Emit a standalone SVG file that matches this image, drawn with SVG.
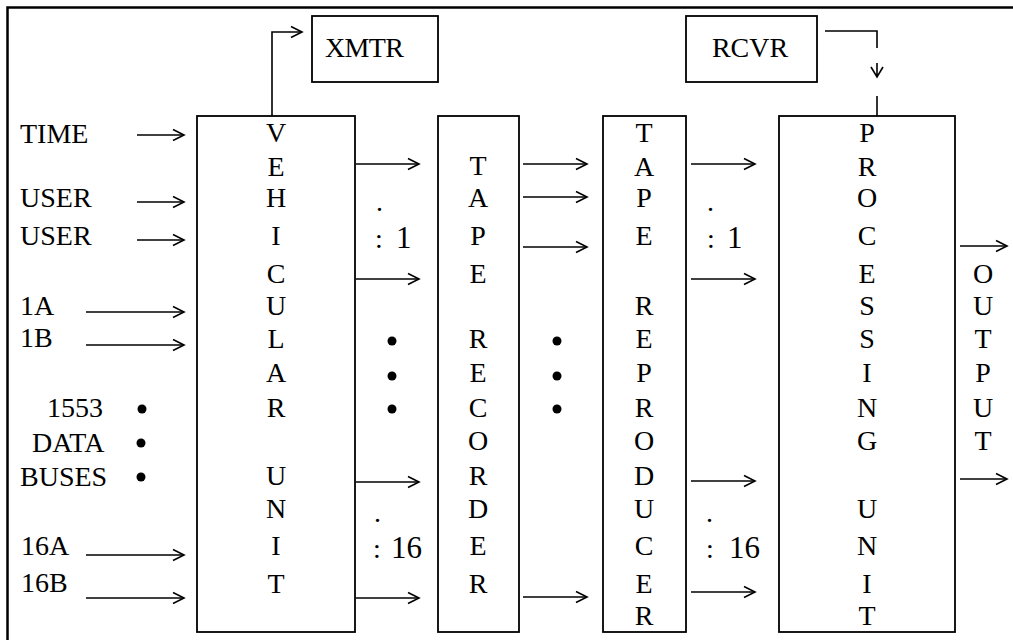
<svg xmlns="http://www.w3.org/2000/svg" width="1013" height="640" viewBox="0 0 1013 640">
<defs>
<marker id="ah" markerUnits="userSpaceOnUse" markerWidth="16" markerHeight="16" viewBox="-13 -8 16 16" refX="0" refY="0" orient="auto">
<path d="M-11,-5.5 L0,0 L-11,5.5" fill="none" stroke="#000" stroke-width="1.6"/>
</marker>
</defs>
<style>
.box{fill:#fff;stroke:#000;stroke-width:1.8}
text{font-family:'Liberation Serif','Times New Roman','DejaVu Serif',serif;font-size:28px;fill:#000}
.v{text-anchor:middle}
.d{font-size:31px}
.c{fill:none;stroke:#000;stroke-width:1.6}
.a{marker-end:url(#ah)}
</style>
<rect width="1013" height="640" fill="#fff"/>
<path d="M7.5,640 V7.5 H1013" fill="none" stroke="#000" stroke-width="2.5"/>

<g id="xmtr" font-family="Liberation Serif, serif">
<rect class="box" x="312" y="16" width="126" height="66"/>
<text x="325" y="57" textLength="79">XMTR</text>
</g>
<g id="rcvr" font-family="Liberation Serif, serif">
<rect class="box" x="686" y="16" width="131" height="66"/>
<text class="v" x="750" y="57">RCVR</text>
</g>

<g id="vehicular-unit" font-family="Liberation Serif, serif">
<rect class="box" x="197" y="116" width="158" height="516"/>
<g class="v">
<text x="276" y="142">V</text><text x="276" y="176">E</text><text x="276" y="207">H</text><text x="276" y="245">I</text><text x="276" y="283">C</text><text x="276" y="315">U</text><text x="276" y="348">L</text><text x="276" y="382">A</text><text x="276" y="417">R</text><text x="276" y="485">U</text><text x="276" y="518">N</text><text x="276" y="555">I</text><text x="276" y="593">T</text>
</g>
</g>

<g id="tape-recorder" font-family="Liberation Serif, serif">
<rect class="box" x="438" y="116" width="81" height="516"/>
<g class="v">
<text x="478" y="175">T</text><text x="478" y="207">A</text><text x="478" y="245">P</text><text x="478" y="283">E</text><text x="478" y="348">R</text><text x="478" y="382">E</text><text x="478" y="417">C</text><text x="478" y="450">O</text><text x="478" y="485">R</text><text x="478" y="518">D</text><text x="478" y="555">E</text><text x="478" y="593">R</text>
</g>
</g>

<g id="tape-reproducer" font-family="Liberation Serif, serif">
<rect class="box" x="603" y="116" width="83" height="516"/>
<g class="v">
<text x="644" y="142">T</text><text x="644" y="176">A</text><text x="644" y="207">P</text><text x="644" y="245">E</text><text x="644" y="315">R</text><text x="644" y="348">E</text><text x="644" y="382">P</text><text x="644" y="417">R</text><text x="644" y="450">O</text><text x="644" y="485">D</text><text x="644" y="518">U</text><text x="644" y="555">C</text><text x="644" y="593">E</text><text x="644" y="625">R</text>
</g>
</g>

<g id="processing-unit" font-family="Liberation Serif, serif">
<rect class="box" x="779" y="116" width="176" height="516"/>
<g class="v">
<text x="867" y="142">P</text><text x="867" y="176">R</text><text x="867" y="207">O</text><text x="867" y="245">C</text><text x="867" y="283">E</text><text x="867" y="315">S</text><text x="867" y="348">S</text><text x="867" y="382">I</text><text x="867" y="417">N</text><text x="867" y="450">G</text><text x="867" y="518">U</text><text x="867" y="555">N</text><text x="867" y="593">I</text><text x="867" y="625">T</text>
</g>
</g>

<g id="output" font-family="Liberation Serif, serif">
<g class="v">
<text x="983" y="283">O</text><text x="983" y="315">U</text><text x="983" y="348">T</text><text x="983" y="382">P</text><text x="983" y="417">U</text><text x="983" y="450">T</text>
</g>
</g>

<g id="inputs" font-family="Liberation Serif, serif">
<text x="20" y="143">TIME</text>
<text x="20" y="207">USER</text>
<text x="20" y="245">USER</text>
<text x="20" y="315">1A</text>
<text x="20" y="347">1B</text>
<text x="47" y="417">1553</text>
<text x="32" y="452">DATA</text>
<text x="20" y="486">BUSES</text>
<text x="21" y="555">16A</text>
<text x="21" y="592">16B</text>
</g>

<g id="ellipses" fill="#000">
<circle cx="142" cy="409" r="4.5"/><circle cx="141" cy="443" r="4.5"/><circle cx="141" cy="477" r="4.5"/>
<circle cx="392" cy="341" r="4.5"/><circle cx="392" cy="376" r="4.5"/><circle cx="392" cy="409" r="4.5"/>
<circle cx="557" cy="341" r="4.5"/><circle cx="557" cy="376" r="4.5"/><circle cx="557" cy="409" r="4.5"/>
</g>

<g id="channel-labels" font-family="Liberation Serif, serif">
<text x="376" y="211">.</text>
<text x="375" y="248">:<tspan class="d" x="396">1</tspan></text>
<text x="374" y="522">.</text>
<text x="373" y="558">:<tspan class="d" x="391">16</tspan></text>
<text x="707" y="211">.</text>
<text x="707" y="248">:<tspan class="d" x="727">1</tspan></text>
<text x="706" y="522">.</text>
<text x="706" y="558">:<tspan class="d" x="729">16</tspan></text>
</g>

<g id="connectors" class="c">
<path class="a" d="M272,116 V32 H302"/>
<path d="M825,31 H877 V48"/>
<path d="M877,63 V77 M871,67 L877,77 L883,67"/>
<path d="M877,96 V116"/>
<path class="a" d="M137,135 H184"/>
<path class="a" d="M137,202 H184"/>
<path class="a" d="M137,240 H184"/>
<path class="a" d="M86,312 H184"/>
<path class="a" d="M86,345 H184"/>
<path class="a" d="M86,555 H184"/>
<path class="a" d="M86,598 H184"/>
<path class="a" d="M356,164 H419"/>
<path class="a" d="M356,279 H419"/>
<path class="a" d="M356,482 H419"/>
<path class="a" d="M356,598 H419"/>
<path class="a" d="M523,164 H587"/>
<path class="a" d="M523,197 H587"/>
<path class="a" d="M523,247 H587"/>
<path class="a" d="M523,597 H587"/>
<path class="a" d="M691,164 H755"/>
<path class="a" d="M691,279 H755"/>
<path class="a" d="M691,481 H755"/>
<path class="a" d="M691,592 H755"/>
<path class="a" d="M960,246 H1007"/>
<path class="a" d="M960,479 H1007"/>
</g>
</svg>
